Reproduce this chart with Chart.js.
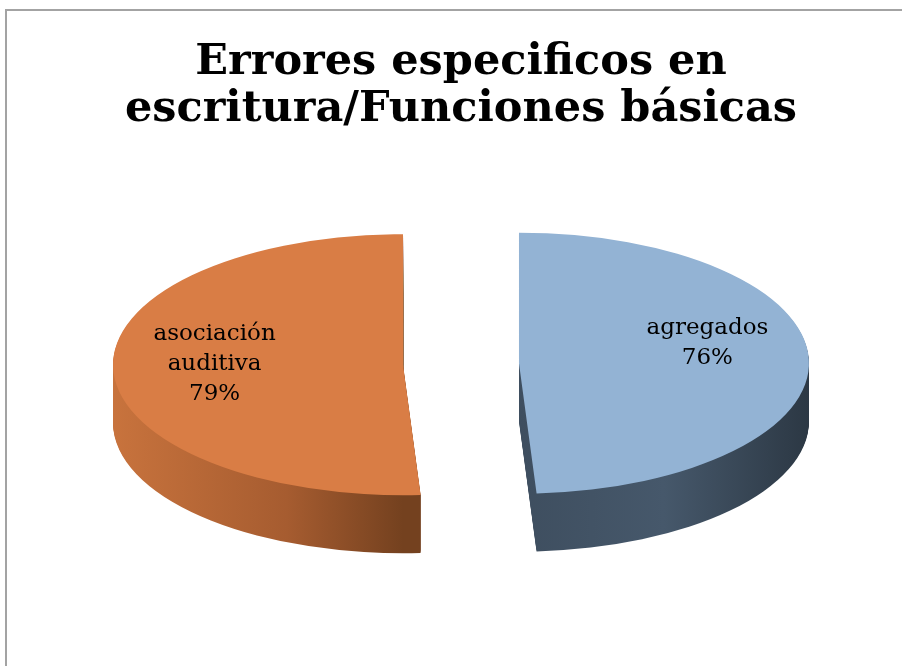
<!DOCTYPE html>
<html>
<head>
<meta charset="utf-8">
<script src="https://cdn.jsdelivr.net/npm/chart.js@4.4.0/dist/chart.umd.min.js"></script>
<style>
  html, body { margin: 0; padding: 0; background: #fff; }
</style>
</head>
<body>
<canvas id="pieChart" width="902" height="666"></canvas>
<script>
const titleLines = ["Errores especificos en", "escritura/Funciones básicas"];
const categories = ["agregados", "asociación auditiva"];
const values = [76, 79];
const valueLabels = ["76%", "79%"];

const topColors = ["#93b3d4", "#d97d45"];
// side shading, left -> right
const sideColors = [
  ["#2e3a47", "#46586b", "#2c3844"],
  ["#c8733d", "#a65c30", "#74411f"],
];

const tilt = 0.45;   // vertical squash of the pie
const depth = 58;    // thickness of the 3d side, px
const explode = 58;  // how far each slice is pulled out, px

function centerY(chart) {
  return (chart.chartArea.top + chart.chartArea.bottom) / 2;
}

const pie3d = {
  id: "pie3d",
  beforeDraw(chart) {
    const ctx = chart.ctx;
    ctx.save();
    ctx.strokeStyle = "#a3a3a3";
    ctx.lineWidth = 2;
    ctx.strokeRect(6, 10, 1200, 1200);
    ctx.restore();
  },
  afterDatasetUpdate(chart) {
    chart.getDatasetMeta(0).data.forEach((arc) => {
      const mid = (arc.startAngle + arc.endAngle) / 2;
      arc.x += Math.cos(mid) * explode;
      arc.y += Math.sin(mid) * explode;
    });
  },
  beforeDatasetsDraw(chart) {
    const ctx = chart.ctx;
    const cy = centerY(chart);
    ctx.save();
    ctx.translate(0, cy);
    ctx.scale(1, tilt);
    ctx.translate(0, -cy);
    chart.getDatasetMeta(0).data.forEach((arc, i) => {
      const r = arc.outerRadius;
      const g = ctx.createLinearGradient(arc.x - r, 0, arc.x + r, 0);
      if (i === 0) {
        g.addColorStop(0, sideColors[i][0]);
        g.addColorStop(0.75, sideColors[i][1]);
        g.addColorStop(1, sideColors[i][2]);
      } else {
        g.addColorStop(0, sideColors[i][0]);
        g.addColorStop(0.3, sideColors[i][1]);
        g.addColorStop(0.5, sideColors[i][2]);
        g.addColorStop(1, sideColors[i][2]);
      }
      ctx.fillStyle = g;
      for (let k = depth; k > 0; k--) {
        const y = arc.y + k / tilt;
        ctx.beginPath();
        ctx.moveTo(arc.x, y);
        ctx.arc(arc.x, y, r, arc.startAngle, arc.endAngle);
        ctx.closePath();
        ctx.fill();
      }
    });
  },
  afterDatasetsDraw(chart) {
    const ctx = chart.ctx;
    ctx.restore();

    // data labels: name split per word, then the value, hanging from the slice middle
    const cy = centerY(chart);
    ctx.save();
    ctx.font = "23px 'DejaVu Serif', serif";
    ctx.fillStyle = "#000";
    ctx.textAlign = "center";
    ctx.textBaseline = "middle";
    chart.getDatasetMeta(0).data.forEach((arc, i) => {
      const mid = (arc.startAngle + arc.endAngle) / 2;
      const rr = arc.outerRadius * 0.65;
      const px = arc.x + Math.cos(mid) * rr;
      const py = cy + (arc.y + Math.sin(mid) * rr - cy) * tilt;
      const lines = categories[i].split(" ").concat(valueLabels[i]);
      lines.forEach((t, j) => {
        ctx.fillText(t, px, py + (j - 1) * 30 - 3);
      });
    });
    ctx.restore();
  },
};

const ctx = document.getElementById("pieChart").getContext("2d");

const pieChart = new Chart(ctx, {
  type: "pie",
  data: {
    labels: categories,
    datasets: [
      {
        data: values,
        backgroundColor: topColors,
        borderWidth: 0,
        clip: false,
      },
    ],
  },
  options: {
    responsive: false,
    animation: false,
    rotation: 0,
    radius: 290,
    layout: {
      padding: { left: 20, right: 0, top: 0, bottom: 85 },
    },
    plugins: {
      legend: { display: false },
      tooltip: { enabled: false },
      title: {
        display: true,
        text: titleLines,
        color: "#000",
        font: { family: "'DejaVu Serif', serif", size: 43, weight: "bold", lineHeight: 1.08 },
        padding: { top: 40, bottom: 14 },
      },
    },
  },
  plugins: [pie3d],
});
</script>
</body>
</html>
